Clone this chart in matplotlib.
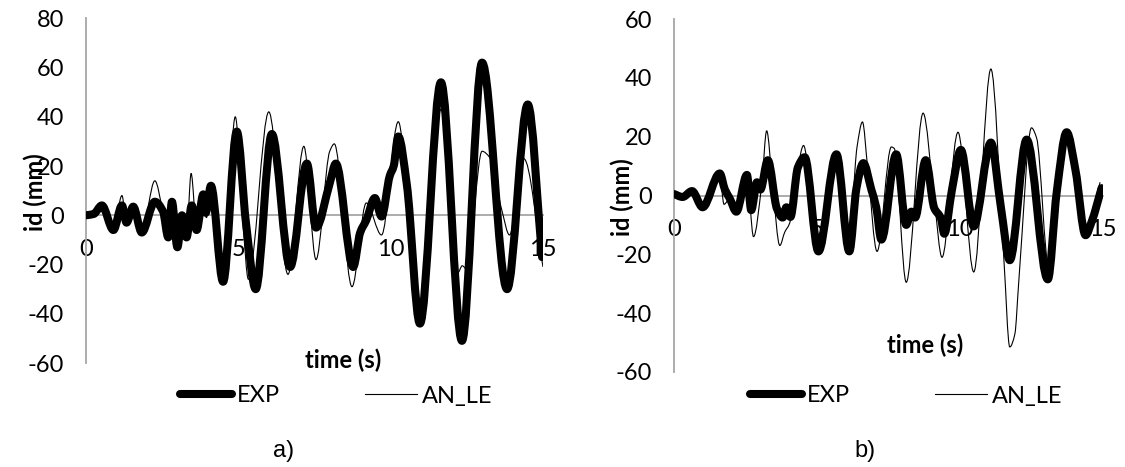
import matplotlib
matplotlib.use("Agg")
import matplotlib.pyplot as plt
import numpy as np
from matplotlib.path import Path
from matplotlib.patches import PathPatch
from matplotlib.lines import Line2D

# ---- panel a) : drift history, EXP vs AN_LE
a_exp_t = [0.0, 0.25, 0.52, 0.9, 1.18, 1.33, 1.55, 1.83, 2.26, 2.53, 2.7, 2.82,
           3.0, 3.15, 3.3, 3.47, 3.63, 3.85, 3.93, 4.1, 4.5, 4.95, 5.25, 5.57,
           6.1, 6.7, 7.25, 7.55, 8.0, 8.2, 8.77, 9.0, 9.2, 9.48, 9.7, 9.97,
           10.1, 10.25, 10.53, 10.96, 11.65, 12.34, 13.0, 13.82, 14.5, 14.97]
a_exp_v = [0, 0.5, 4, -6, 4, -3, 3.5, -7, 5.5, 1.5, -9, 5.5,
           -13, 0, -9, 4, -6, 8.5, 1, 12, -27, 34, -3, -30,
           33, -21, 21, -5, 13, 21, -21, -7, -2, 7, -0.5, 16,
           20, 32, 12.5, -44, 54, -51, 62, -30, 45, -17]

a_an_t = [0.0, 0.25, 0.52, 0.9, 1.18, 1.33, 1.55, 1.83, 2.26, 2.53, 2.7, 2.82,
          3.0, 3.15, 3.3, 3.45, 3.63, 3.85, 3.95, 4.1, 4.5, 4.9, 5.15, 5.33,
          6.0, 6.63, 7.15, 7.55, 8.0, 8.15, 8.73, 9.2, 9.7, 10.25, 10.53, 10.96,
          11.65, 12.2, 12.35, 12.5, 13.0, 13.25, 13.65, 13.9, 14.37, 15.0]
a_an_v = [0, 0.5, 4, -6, 8, -3, 3.5, -7, 14, 1, -9, 5,
          -12, 0, -9, 17, -5, 8, -1, 11, -27, 40, -3, -26,
          42, -24, 28, -18, 26, 29, -29, 5, -8, 38, 12, -45,
          43, -23.5, -20.5, -22, 26, 23.5, 2, -8, 23, -21]

# ---- panel b)
b_exp_t = [0.0, 0.3, 0.63, 1.0, 1.6, 1.78, 1.95, 2.18, 2.55, 2.7, 2.9, 3.02,
           3.28, 3.6, 3.8, 3.93, 4.07, 4.33, 4.57, 5.05, 5.68, 6.13, 6.38, 6.62,
           6.9, 7.07, 7.25, 7.77, 8.12, 8.3, 8.43, 8.8, 9.1, 9.33, 9.45, 9.72,
           10.03, 10.48, 11.08, 11.43, 11.74, 12.33, 13.07, 13.38, 13.73, 14.04,
           14.39, 14.6, 14.95]
b_exp_v = [0.5, -0.5, 1.5, -4, 7.5, 2, -1, -5.5, 7, -5, 4.5, 2,
           12, -4.5, -7.5, -4, -7.3, 9.5, 13, -19, 14, -19, 2.5, 11,
           2, -4, -15, 14, -10, -5.5, -7.5, 12, -4.3, -7.7, -13, 2,
           15.5, -10.5, 18, -4, -22, 19, -28.5, 1, 21.5, 8.5,
           -13.5, -9, 2.5]

b_an_t = [0.0, 0.3, 0.63, 1.0, 1.6, 1.75, 1.95, 2.18, 2.37, 2.55, 2.78, 3.07,
          3.24, 3.45, 3.7, 3.87, 4.04, 4.33, 4.53, 5.0, 5.65, 6.1, 6.4, 6.59,
          6.77, 7.1, 7.6, 7.7, 8.12, 8.71, 9.1, 9.37, 9.93, 10.48, 11.08, 11.53,
          11.74, 11.92, 12.05, 12.5, 12.68, 13.1, 13.45, 13.73, 14.35, 14.9]
b_an_v = [0.5, -0.5, 1.5, -4.5, 6.5, -3, -1, -6, 4.5, 7, -14, 4,
          22, 3, -17, -12.5, -9.5, 9.5, 17, -18, 14, -18, 16.5, 25,
          9.5, -19, 16.5, 16, -29.5, 28, -1.5, -21, 21.5, -26, 43, -21,
          -51.5, -47, -30, 23, 19.5, -24, 4, 21, -12, 4.5]

a_yticks = [80, 60, 40, 20, 0, -20, -40, -60]
b_yticks = [60, 40, 20, 0, -20, -40, -60]
xticks = [0, 5, 10, 15]

FONT = "Lato"
FS = 17
GRAY = "#a6a6a6"
W, H = 1125, 467

plt.rcParams["axes.unicode_minus"] = False


def pchip_path(t, v):
    # shape-preserving cubic through the points, drawn as bezier segments
    t = np.asarray(t, float)
    v = np.asarray(v, float)
    h = np.diff(t)
    d = np.diff(v) / h
    m = np.zeros_like(v)
    m[0], m[-1] = d[0], d[-1]
    for k in range(1, len(v) - 1):
        if d[k - 1] * d[k] > 0:
            w1 = 2 * h[k] + h[k - 1]
            w2 = h[k] + 2 * h[k - 1]
            m[k] = (w1 + w2) / (w1 / d[k - 1] + w2 / d[k])
    verts = [(t[0], v[0])]
    codes = [Path.MOVETO]
    for i in range(len(h)):
        verts += [(t[i] + h[i] / 3, v[i] + m[i] * h[i] / 3),
                  (t[i + 1] - h[i] / 3, v[i + 1] - m[i + 1] * h[i] / 3),
                  (t[i + 1], v[i + 1])]
        codes += [Path.CURVE4] * 3
    return Path(verts, codes)


def draw_panel(fig, box, ylim, yticks, exp_t, exp_v, an_t, an_v):
    l, r, top, bot = box
    ax = fig.add_axes([l / W, 1 - bot / H, (r - l) / W, (bot - top) / H])
    ax.set_xlim(0, 15)
    ax.set_ylim(*ylim)
    ax.set_facecolor("none")
    for s in ["top", "right"]:
        ax.spines[s].set_visible(False)
    ax.spines["left"].set_color(GRAY)
    ax.spines["left"].set_linewidth(1.3)
    ax.spines["bottom"].set_position(("data", 0))
    ax.spines["bottom"].set_color(GRAY)
    ax.spines["bottom"].set_linewidth(1.3)
    ax.spines["bottom"].set_zorder(0.5)
    ax.set_xticks(xticks)
    ax.set_yticks(yticks)
    ax.tick_params(axis="both", length=0, labelsize=FS)
    ax.tick_params(axis="x", pad=17)
    ax.tick_params(axis="y", pad=16)
    for lab in ax.get_xticklabels() + ax.get_yticklabels():
        lab.set_fontfamily(FONT)

    ax.add_patch(PathPatch(pchip_path(an_t, an_v), fill=False, ec="black",
                           lw=0.8, zorder=2))
    ax.add_patch(PathPatch(pchip_path(exp_t, exp_v), fill=False, ec="black",
                           lw=5.8, capstyle="round", joinstyle="round", zorder=3))
    return ax


fig = plt.figure(figsize=(11.25, 4.67), dpi=100)

ax_a = draw_panel(fig, (86, 543, 18.3, 363), (-60, 80), a_yticks,
                  a_exp_t, a_exp_v, a_an_t, a_an_v)
ax_b = draw_panel(fig, (674, 1103, 19, 372), (-60, 60), b_yticks,
                  b_exp_t, b_exp_v, b_an_t, b_an_v)

# axis titles
fig.text(35 / W, 1 - 192 / H, "id (mm)", rotation=90, ha="center", va="center",
         fontsize=FS, fontweight="bold", family=FONT)
fig.text(622 / W, 1 - 197 / H, "id (mm)", rotation=90, ha="center", va="center",
         fontsize=FS, fontweight="bold", family=FONT)
fig.text(343 / W, 1 - 360 / H, "time (s)", ha="center", va="center",
         fontsize=FS, fontweight="bold", family=FONT)
fig.text(925 / W, 1 - 345 / H, "time (s)", ha="center", va="center",
         fontsize=FS, fontweight="bold", family=FONT)

# legends
handles = [Line2D([], [], color="black", lw=5.8, solid_capstyle="round"),
           Line2D([], [], color="black", lw=0.8)]
for ax, cx in [(ax_a, 336), (ax_b, 906)]:
    ax.legend(handles, ["EXP", "AN_LE"], ncol=2, loc="center",
              bbox_to_anchor=(cx / W, 1 - 396 / H),
              bbox_transform=fig.transFigure, frameon=False,
              prop={"family": FONT, "size": FS}, handlelength=2.2,
              handletextpad=0.2, columnspacing=3.6)

# captions
fig.text(284 / W, 1 - 451 / H, "a)", ha="center", va="center",
         fontsize=17, family="Liberation Sans")
fig.text(865 / W, 1 - 451 / H, "b)", ha="center", va="center",
         fontsize=17, family="Liberation Sans")

fig.savefig("out.png", dpi=100)
